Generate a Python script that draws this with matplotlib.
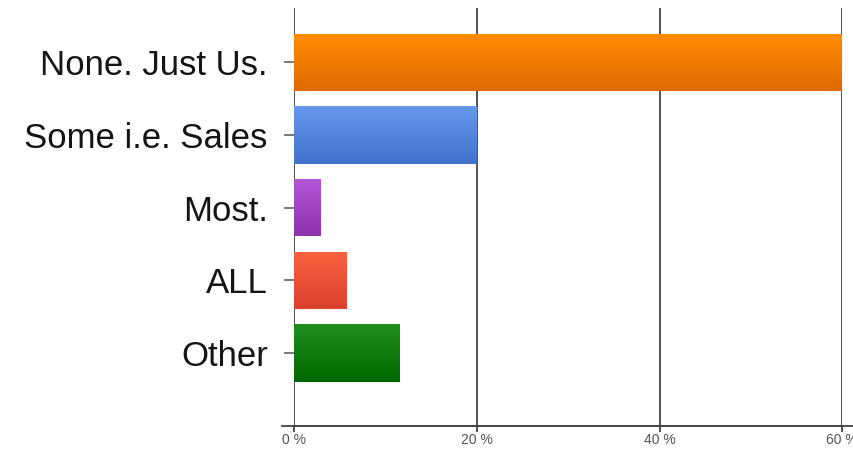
import numpy as np
import matplotlib
matplotlib.use("Agg")
import matplotlib.pyplot as plt
from matplotlib.colors import LinearSegmentedColormap

# survey answers and share of responses (%)
answers = ["None. Just Us.", "Some i.e. Sales", "Most.", "ALL", "Other"]
shares = [60.0, 20.0, 2.9, 5.8, 11.5]

# top / bottom colour of each bar's vertical gradient
top_colors = ["#ff8c00", "#6698ea", "#b657da", "#f9623f", "#208e20"]
bottom_colors = ["#e06a00", "#4272cc", "#8c33ae", "#d94130", "#006800"]

x_ticks = [0, 20, 40, 60]
x_labels = ["0 %", "20 %", "40 %", "60 %"]

plt.rcParams['font.family'] = ['Liberation Sans', 'DejaVu Sans']

fig = plt.figure(figsize=(8.54, 4.49), dpi=100)
ax = fig.add_axes([0.3448, 0.0520, 0.6415, 0.9302])

pos = np.arange(len(answers))
bar_h = 0.79
bars = ax.barh(pos, shares, height=bar_h, color="none", edgecolor="none", zorder=3)

# fill each bar with a top-to-bottom gradient
grad = np.linspace(0, 1, 128).reshape(-1, 1)
for rect, c_top, c_bot in zip(bars, top_colors, bottom_colors):
    x0, y0 = rect.get_x(), rect.get_y()
    w, h = rect.get_width(), rect.get_height()
    cmap = LinearSegmentedColormap.from_list("g", [c_top, c_bot])
    im = ax.imshow(grad, extent=(x0, x0 + w, y0, y0 + h), origin="lower",
                   cmap=cmap, aspect="auto", zorder=3, interpolation="bilinear")
    im.set_clip_path(rect)

ax.set_xlim(0, 60)
ax.set_ylim(5.0, -0.75)

# vertical grid lines
for t in x_ticks:
    ax.axvline(t, color="#444444", lw=1.3, zorder=1)

for s in ["top", "right", "left"]:
    ax.spines[s].set_visible(False)
ax.spines["bottom"].set_color("#444444")
ax.spines["bottom"].set_linewidth(1.3)
ax.axhline(5.0, xmin=-0.022, xmax=1.02, color="#444444", lw=1.3, clip_on=False, zorder=1)

ax.set_yticks(pos)
ax.set_yticklabels(answers, fontsize=25, color="#151515")
ax.tick_params(axis="y", length=7.2, width=1.1, color="#555555", pad=12)

ax.set_xticks(x_ticks)
ax.set_xticklabels(x_labels, fontsize=10, color="#555555")
ax.tick_params(axis="x", length=4.5, width=1.3, color="#444444", pad=1)

fig.savefig("out.png", dpi=100, facecolor="white")
